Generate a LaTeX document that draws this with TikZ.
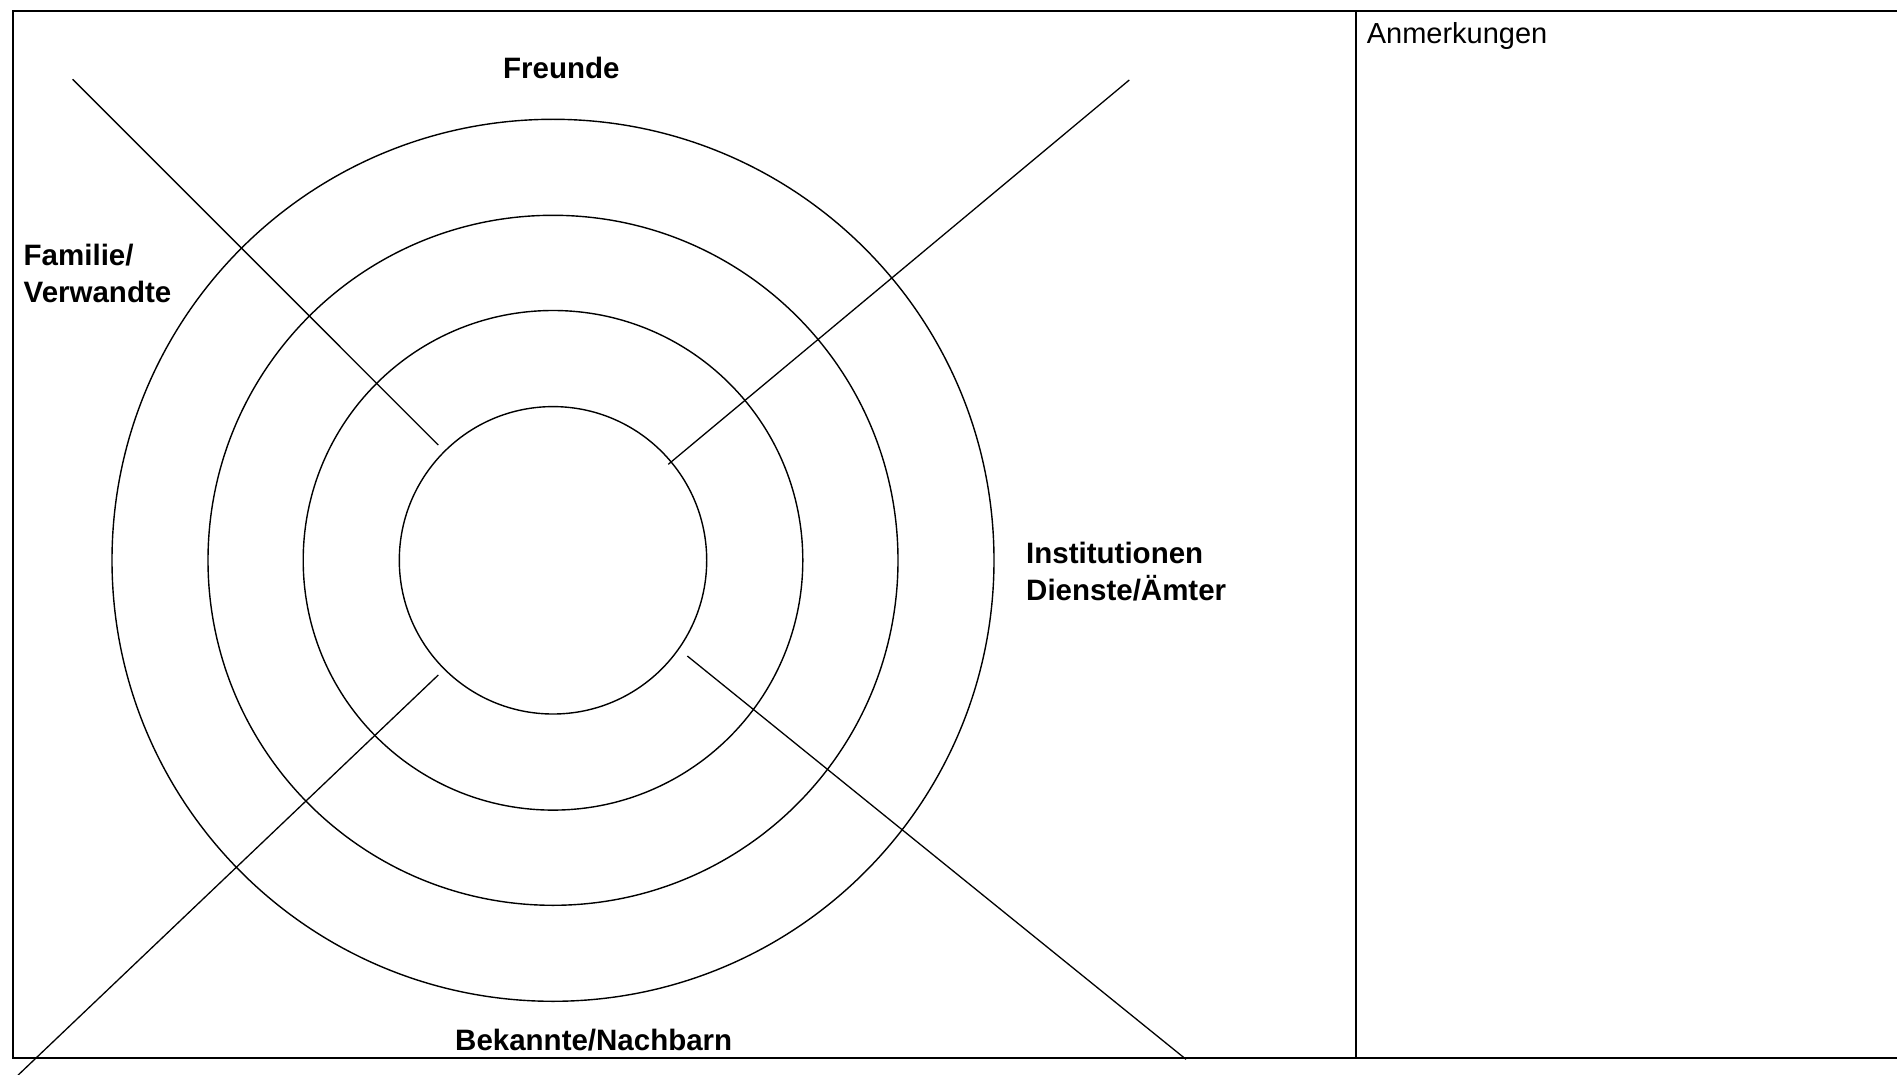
\documentclass[tikz,border=0pt]{standalone}
\usepackage{fontspec}
\setmainfont{Liberation Sans}
\begin{document}
\begin{tikzpicture}[x=1pt,y=-1pt,
  frame/.style={line width=2pt},
  ring/.style={line width=1.4pt},
  spoke/.style={line width=1.3pt},
  sector/.style={font=\bfseries\fontsize{29.5}{37.5}\selectfont, inner sep=0pt, align=left, anchor=base west},
  note/.style={font=\fontsize{29}{34}\selectfont, inner sep=0pt, anchor=base west}]
\useasboundingbox (0,0) rectangle (1897,1075);

% outer frame with the notes column on the right
\draw[frame] (12.7,11) rectangle (1912,1058);
\coordinate (divtop) at (1356,11);
\coordinate (divbot) at (1356,1058);
\draw[frame] (divtop) -- (divbot);

% concentric rings
\coordinate (c) at (553,560.3);
\foreach \r in {153.7,249.8,345,441}
  \draw[ring] (c) circle[radius=\r pt];

% four spokes separating the sectors
\coordinate (tlA) at (72.7,79.3);   \coordinate (tlB) at (438.3,445);
\coordinate (trA) at (1129.3,80);   \coordinate (trB) at (668.3,464.3);
\coordinate (blA) at (438.3,675);   \coordinate (blB) at (14,1079);
\coordinate (brA) at (687.3,656);   \coordinate (brB) at (1186,1059.3);
\draw[spoke] (tlA) -- (tlB);
\draw[spoke] (trA) -- (trB);
\draw[spoke] (blA) -- (blB);
\draw[spoke] (brA) -- (brB);

% sector labels (multi-line labels are anchored at their last baseline)
\node[sector] (freunde) at (503,78.6) {Freunde};
\node[sector] (familie) at (23.5,302.5) {Familie/\\Verwandte};
\node[sector] (inst) at (1026,600.5) {Institutionen\\Dienste/Ämter};
\node[sector] (bekannte) at (455,1050) {Bekannte/Nachbarn};

% notes column heading
\node[note] (anm) at (1366.6,44) {Anmerkungen};
\end{tikzpicture}
\end{document}
